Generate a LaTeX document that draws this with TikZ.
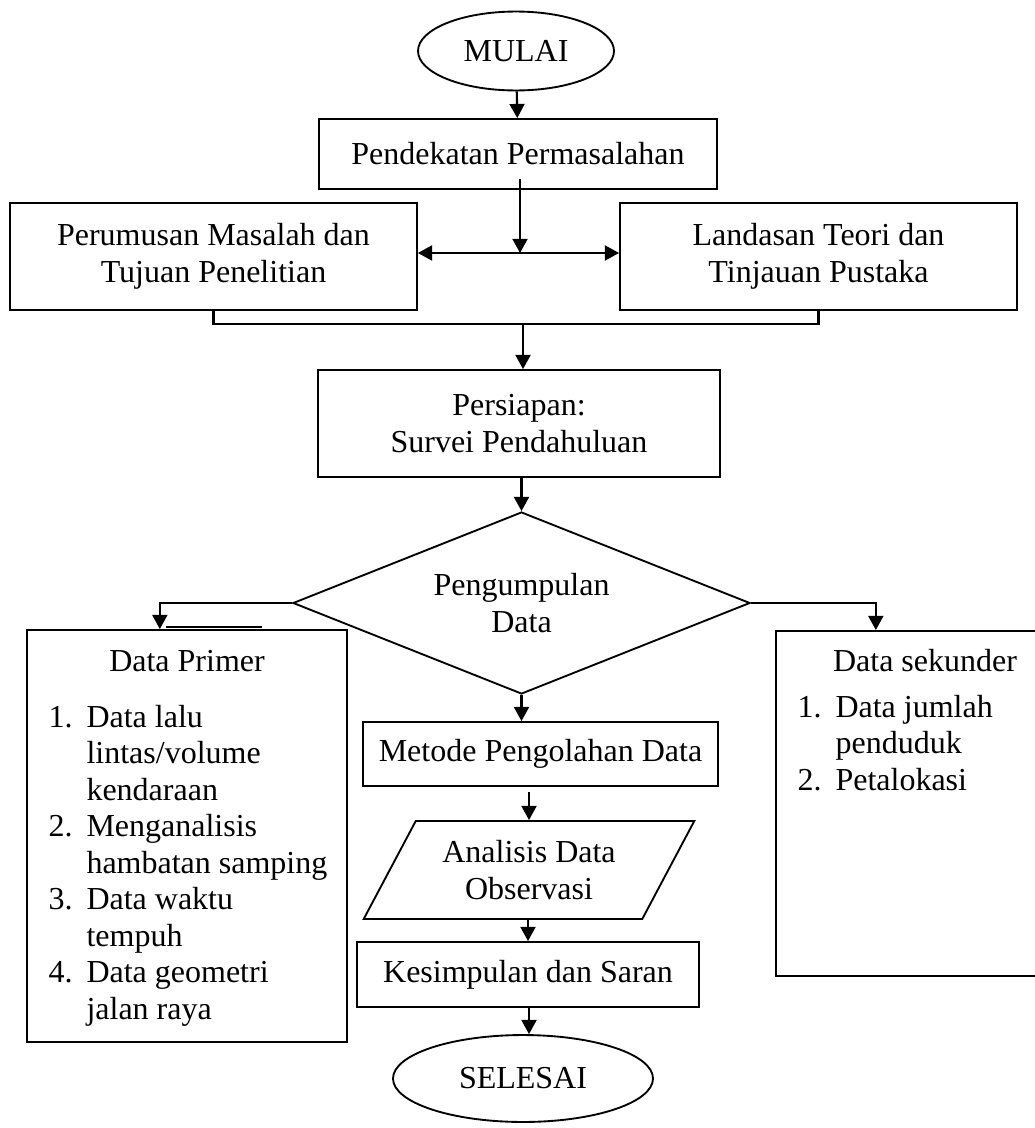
\documentclass[tikz,border=0pt]{standalone}
\usepackage{fontspec}
\setmainfont{Liberation Serif}
\usepackage{tikz}
\usetikzlibrary{positioning,calc}
\usetikzlibrary{arrows.meta, shapes.geometric}
\tikzstyle{startstop} = [ellipse, draw, line width=0.7pt, inner sep=0pt]
\tikzstyle{process} = [rectangle, draw, line width=0.7pt, align=center, inner sep=0pt]
\tikzstyle{decision} = [diamond, aspect=2.5, draw, line width=0.7pt, align=center, inner sep=0pt]
\tikzstyle{io} = [trapezium, trapezium left angle=56, trapezium right angle=124, trapezium stretches=true, draw, line width=0.7pt, align=center, inner sep=0pt]
\tikzstyle{arrow} = [line width=0.8pt,-{Triangle[length=5.3pt,width=5.6pt]}]
\tikzstyle{dblarrow} = [line width=0.8pt,{Triangle[length=5.3pt,width=5.6pt]}-{Triangle[length=5.3pt,width=5.6pt]}]
\tikzstyle{line} = [line width=0.8pt]
\tikzstyle{listtext} = [inner sep=0pt, anchor=base west]

\begin{document}
\begin{tikzpicture}[x=0.375pt, y=-0.375pt, font=\fontsize{12}{13.7}\selectfont]
\useasboundingbox (0,0) rectangle (1035,1128);
\clip (0,0) rectangle (1035,1128);
% main column
\draw (516,51) node (mulai) [startstop, minimum width=73.5pt, minimum height=29.6pt] {MULAI};
\draw (518,154) node (pendekatan) [process, minimum width=149.25pt, minimum height=26.25pt] {Pendekatan Permasalahan};
\draw (213.5,256.5) node (perumusan) [process, minimum width=152.6pt, minimum height=40.1pt] {Perumusan Masalah dan\\Tujuan Penelitian};
\draw (818.5,256.5) node (landasan) [process, minimum width=148.9pt, minimum height=40.1pt] {Landasan Teori dan\\Tinjauan Pustaka};
\draw (519,423.5) node (persiapan) [process, minimum width=150.75pt, minimum height=40.1pt] {Persiapan:\\Survei Pendahuluan};
\draw (521.5,603) node (data) [decision, minimum width=171.4pt, minimum height=68.25pt] {Pengumpulan\\Data};
\draw (540.5,754) node (metode) [process, minimum width=133.1pt, minimum height=24pt] {Metode Pengolahan Data};
\draw (529,870) node (analisis) [io, minimum width=124.5pt, minimum height=36.75pt] {Analisis Data\\Observasi};
\draw (528,974.5) node (kesimpulan) [process, minimum width=128.25pt, minimum height=24.4pt] {Kesimpulan dan Saran};
\draw (523,1078.5) node (selesai) [startstop, minimum width=97.5pt, minimum height=32.6pt] {SELESAI};
% side boxes
\draw (187,836) node (primer) [process, minimum width=120pt, minimum height=154.5pt] {};
\draw (910.5,803.5) node (sekunder) [process, minimum width=100.9pt, minimum height=129.4pt] {};
\draw (187,671) node (primertitle) [inner sep=0pt, anchor=base] {Data Primer};
\draw (925,671) node (sekundertitle) [inner sep=0pt, anchor=base] {Data sekunder};
\draw (48,727) node (primerlist) [listtext] {\begin{tabular}[t]{@{}p{14.25pt}@{}l@{}}
1. & Data lalu\\ & lintas/volume\\ & kendaraan\\
2. & Menganalisis\\ & hambatan samping\\
3. & Data waktu\\ & tempuh\\
4. & Data geometri\\ & jalan raya
\end{tabular}};
\draw (797,717) node (sekunderlist) [listtext] {\begin{tabular}[t]{@{}p{14.25pt}@{}l@{}}
1. & Data jumlah\\ & penduduk\\
2. & Petalokasi
\end{tabular}};
% connectors
\coordinate (mid) at (520,253);
\coordinate (join) at (523,324);
\draw [arrow] (mulai) -- (pendekatan);
\draw [arrow] ($(pendekatan.south -| mid)+(0,-11)$) -- (mid);
\draw [dblarrow] (perumusan.east |- mid) -- (landasan.west |- mid);
\draw [line] (perumusan.south) |- (join) -| (landasan.south);
\draw [arrow] (join) -- (join |- persiapan.north);
\draw [arrow] (persiapan.south -| data.north) -- (data.north);
\draw [arrow] (data.west) -| ($(primer.north west)!0.4156!(primer.north east)$);
\draw [arrow] (data.east) -| ($(sekunder.north west)!0.372!(sekunder.north east)$);
\draw [line] ($(primer.north west)+(140,-2)$) -- ++(96,0);
\draw [arrow] (data.south) -- (data.south |- metode.north);
\draw [arrow] ($(analisis.north |- metode.south)+(0,5)$) -- (analisis.north);
\draw [arrow] (analisis.south -| kesimpulan.north) -- (kesimpulan.north);
\draw [arrow] (kesimpulan.south -| analisis.north) -- (selesai.north -| analisis.north);
\end{tikzpicture}
\end{document}
